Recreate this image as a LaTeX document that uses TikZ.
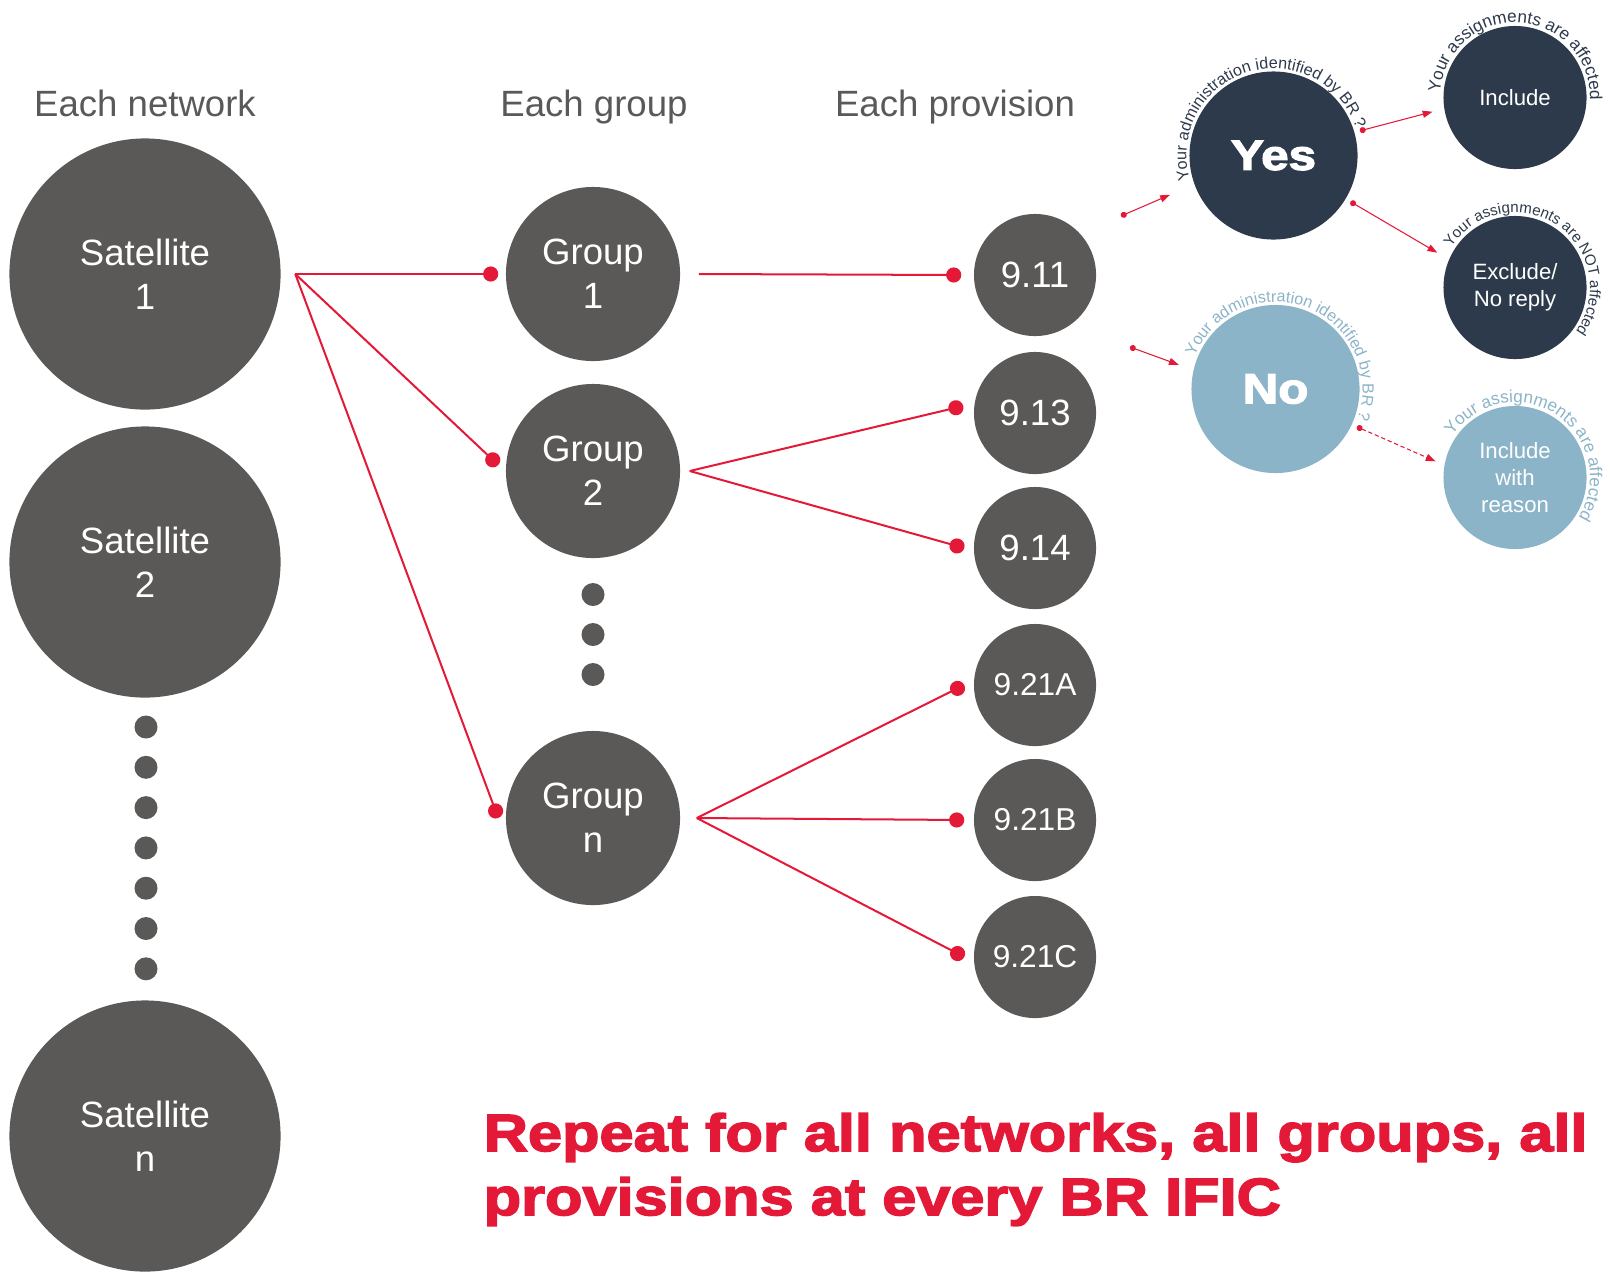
\documentclass[tikz,border=0pt]{standalone}
\usepackage{xcolor}
\usepackage{fontspec}
\setmainfont{Liberation Sans}
\newfontfamily\blackfont[FakeStretch=1.17,FakeBold=3]{Liberation Sans Bold}
\usepackage{tikz}
\usetikzlibrary{calc,arrows.meta,decorations.text}
\tikzset{>=stealth}

\definecolor{ituRed}{RGB}{227,25,55}
\definecolor{discGray}{RGB}{90,89,87}
\definecolor{headGray}{RGB}{89,89,89}
\definecolor{navy}{RGB}{45,58,75}
\definecolor{skyBlue}{RGB}{140,180,200}

\tikzset{
  satdisc/.style={circle, fill=discGray, text=white, minimum size=2.71cm, inner sep=0pt, align=center, font=\fontsize{10.4}{12.5}\selectfont},
  grpdisc/.style={satdisc, minimum size=1.74cm},
  provdisc/.style={satdisc, minimum size=1.22cm},
  provsmall/.style={provdisc, font=\fontsize{9}{11}\selectfont},
  gapdot/.style={circle, fill=discGray, minimum size=0.23cm, inner sep=0pt},
  heading/.style={text=headGray, anchor=base, font=\fontsize{10.4}{12.5}\selectfont},
  link/.style={ituRed, line width=0.57pt, -{Circle[length=4.3pt]}},
  answer/.style={circle, minimum size=1.68cm, inner sep=0pt, text=white, font=\blackfont\fontsize{12}{14}\selectfont},
  outcome/.style={circle, minimum size=1.43cm, inner sep=0pt, text=white, align=center, font=\fontsize{6.3}{7.7}\selectfont},
  choice/.style={ituRed, line width=0.3pt, {Circle[length=1.7pt]}-{Triangle[length=2.8pt,width=2pt]}},
  ring/.style={decorate, decoration={text along path, text align=center}}
}

\begin{document}
\begin{tikzpicture}[x=0.01cm,y=0.01cm]
  \useasboundingbox (0,0) rectangle (1610,-1272);

  % column headings
  \node[heading] (hnet) at (145,-116) {Each network};
  \node[heading] (hgrp) at (594,-116) {Each group};
  \node[heading] (hprov) at (955,-116) {Each provision};

  % networks
  \node[satdisc] (sat1) at (145,-274) {Satellite\\1};
  \node[satdisc] (sat2) at (145,-562) {Satellite\\2};
  \node[satdisc] (satn) at (145,-1136) {Satellite\\n};
  \foreach \k in {0,...,6}
    \node[gapdot] (sdot\k) at (146,-727-40.3*\k) {};

  % groups
  \node[grpdisc] (grp1) at (593,-274) {Group\\1};
  \node[grpdisc] (grp2) at (593,-471) {Group\\2};
  \node[grpdisc] (grpn) at (593,-818) {Group\\n};
  \foreach \k in {0,1,2}
    \node[gapdot] (gdot\k) at (593,-594.5-40*\k) {};

  % provisions
  \node[provdisc] (p911) at (1035,-275) {9.11};
  \node[provdisc] (p913) at (1035,-413) {9.13};
  \node[provdisc] (p914) at (1035,-548) {9.14};
  \node[provsmall] (p921a) at (1035,-685) {9.21A};
  \node[provsmall] (p921b) at (1035,-820) {9.21B};
  \node[provsmall] (p921c) at (1035,-957) {9.21C};

  % network -> groups
  \draw[link] ([xshift=0.14cm]sat1.east) -- ([xshift=-0.07cm]grp1.west);
  \draw[link] ([xshift=0.14cm]sat1.east) -- ([xshift=-0.07cm,yshift=0.06cm]grp2.west);
  \draw[link] ([xshift=0.14cm]sat1.east) -- ([xshift=-0.07cm]grpn.west);

  % groups -> provisions
  \draw[link] ([xshift=0.18cm]grp1.east) -- ([xshift=-0.12cm]p911.west);
  \draw[link] ([xshift=0.09cm]grp2.east) -- ([xshift=-0.1cm,yshift=0.07cm]p913.west);
  \draw[link] ([xshift=0.09cm]grp2.east) -- ([xshift=-0.09cm]p914.west);
  \draw[link] ([xshift=0.16cm]grpn.east) -- ([xshift=-0.09cm]p921a.west);
  \draw[link] ([xshift=0.16cm]grpn.east) -- ([xshift=-0.09cm]p921b.west);
  \draw[link] ([xshift=0.16cm]grpn.east) -- ([xshift=-0.09cm]p921c.west);

  % answers
  \node[answer, fill=navy] (yes) at (1273.5,-155.5) {Yes};
  \node[answer, fill=skyBlue] (no) at (1275.5,-389) {No};
  \node[outcome, fill=navy] (incl) at (1515,-97.5) {Include};
  \node[outcome, fill=navy] (excl) at (1515,-287.5) {Exclude/\\No reply};
  \node[outcome, fill=skyBlue] (irs) at (1515,-477.5) {Include\\with\\reason};

  % curved captions
  \path[ring, decoration={text={|\fontsize{4.6}{5}\selectfont\color{navy}|Your administration identified by BR ?}}]
    (yes.center) ++(227:0.87cm) arc[start angle=227, end angle=-13, radius=0.87cm];
  \path[ring, decoration={text={|\fontsize{4.6}{5}\selectfont\color{skyBlue}|Your administration identified by BR ?}}]
    (no.center) ++(189:0.87cm) arc[start angle=189, end angle=-51, radius=0.87cm];
  \path[ring, decoration={text={|\fontsize{4.9}{5}\selectfont\color{navy}|Your assignments are affected}}]
    (incl.center) ++(207:0.75cm) arc[start angle=207, end angle=-33, radius=0.75cm];
  \path[ring, decoration={text={|\fontsize{4.3}{5}\selectfont\color{navy}|Your assignments are NOT affected}}]
    (excl.center) ++(176:0.75cm) arc[start angle=176, end angle=-64, radius=0.75cm];
  \path[ring, decoration={text={|\fontsize{4.9}{5}\selectfont\color{skyBlue}|Your assignments are affected}}]
    (irs.center) ++(177:0.75cm) arc[start angle=177, end angle=-63, radius=0.75cm];

  % decision arrows
  \coordinate (yesfrom) at (1121,-216);
  \coordinate (nofrom) at (1130,-347);
  \draw[choice, shorten >=0.26cm] (yesfrom) -- (yes.200);
  \draw[choice, shorten <=0.05cm, shorten >=0.115cm] (yes.16) -- (incl.189);
  \draw[choice, shorten <=0.05cm, shorten >=0.13cm] (yes.-31) -- (excl.157);
  \draw[choice, shorten >=0.15cm] (nofrom) -- (no.167);
  \draw[choice, dash pattern=on 1.2pt off 0.8pt, shorten <=0.05cm, shorten >=0.09cm] (no.-25) -- (irs.170);

  % closing note
  \node[anchor=base west, align=left, text=ituRed, inner sep=0pt,
        font=\blackfont\fontsize{14.9}{18.2}\selectfont] (repeat) at (483,-1215)
        {Repeat for all networks, all groups, all\\provisions at every BR IFIC};
\end{tikzpicture}
\end{document}
